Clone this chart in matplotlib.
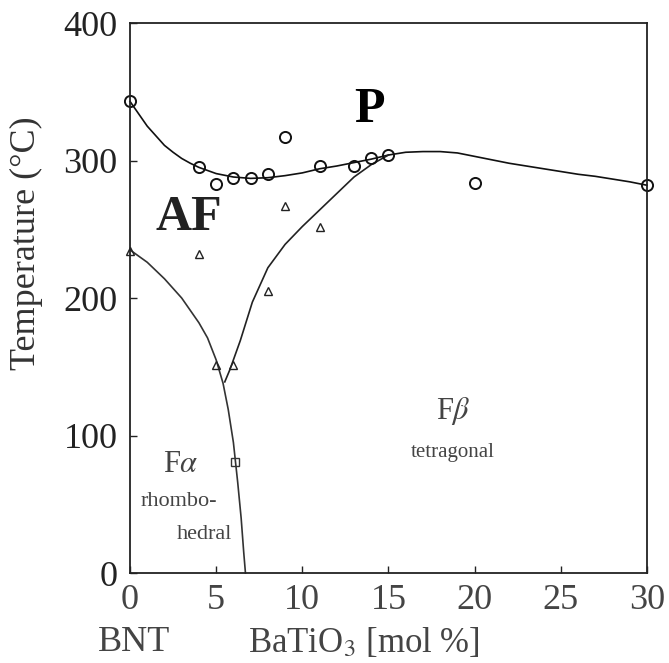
import matplotlib
matplotlib.use("Agg")
import matplotlib.pyplot as plt
from matplotlib import transforms

plt.rcParams['font.family'] = ['Liberation Serif', 'DejaVu Serif']
plt.rcParams['mathtext.fontset'] = 'stix'

# Pontos medidos (BaTiO3 mol %, temperatura °C)
circ_x = [0, 4, 5, 6, 7, 8, 9, 11, 13, 14, 15, 20, 30]
circ_T = [343, 295, 283, 287, 287, 290, 317, 296, 296, 302, 304, 284, 282]

tri_x = [0, 4, 9, 11, 8, 5, 6]
tri_T = [234, 232, 267, 252, 205, 151, 151]

sq_x = [6.1]
sq_T = [81]

# Contornos das fases
p_x = [0, 0.5, 1, 1.5, 2, 2.5, 3, 3.5, 4, 5, 6, 7, 8, 9, 10, 11, 12, 13, 14, 15,
       16, 17, 18, 19, 20, 21, 22, 23, 24, 25, 26, 27, 28, 29, 30]
p_T = [343, 334, 325, 318, 311, 306, 301.5, 298, 295, 290.5, 288, 287, 287.5, 289, 291,
       294, 296, 298.5, 301, 304, 306, 306.5, 306.5, 305.5, 303, 300.5, 298, 296, 294,
       292, 290, 288.5, 286.5, 284.5, 282]

fa_x = [0, 1, 2, 3, 4, 4.5, 5, 5.4, 5.7, 6.0, 6.25, 6.45, 6.6, 6.7]
fa_T = [235, 226, 214, 200, 182, 171, 155, 138, 119, 95, 66, 40, 15, 0]

fb_x = [5.5, 5.8, 6.4, 7.1, 8, 9, 10, 11, 12, 13, 14, 15]
fb_T = [139, 148, 169, 197, 222, 239, 252, 264, 276, 288, 297, 304]

xticks = [0, 5, 10, 15, 20, 25, 30]
yticks = [0, 100, 200, 300, 400]

fig = plt.figure(figsize=(6.69, 6.63), dpi=100)
ax = fig.add_axes([0.1943, 0.1357, 0.7728, 0.8296])

ax.plot(p_x, p_T, color='#111111', lw=1.2, clip_on=False)
ax.plot(fa_x, fa_T, color='#333333', lw=1.2, clip_on=False)
ax.plot(fb_x, fb_T, color='#222222', lw=1.2, clip_on=False)

ax.plot(circ_x, circ_T, 'o', ms=8, mfc='none', mec='#111111', mew=1.4, clip_on=False)
ax.plot(tri_x, tri_T, '^', ms=5.5, mfc='none', mec='#222222', mew=1.0, clip_on=False)
ax.plot(sq_x, sq_T, 's', ms=6, mfc='none', mec='#333333', mew=1.0, clip_on=False)

ax.set_xlim(0, 30)
ax.set_ylim(0, 400)
ax.set_xticks(xticks)
ax.set_yticks(yticks)
ax.tick_params(direction='in', length=5, width=1, labelsize=26, colors='#222222')
ax.tick_params(axis='y', pad=9)
ax.tick_params(axis='x', pad=8, labelcolor='#444444')
for s in ax.spines.values():
    s.set_linewidth(1.3)
    s.set_color('#222222')

ax.set_ylabel('Temperature (°C)', fontsize=26, color='#333333')
ax.yaxis.set_label_coords(-0.168, 0.60)

trans = transforms.blended_transform_factory(ax.transData, ax.transAxes)
ax.text(0.25, -0.127, 'BNT', transform=trans, fontsize=26, color='#444444',
        ha='center', va='center')
ax.text(13.6, -0.127, r'BaTiO$_3$ [mol %]', transform=trans, fontsize=25,
        color='#444444', ha='center', va='center')

# Rótulos das fases
ax.text(13.9, 337, 'P', fontsize=36, fontweight='bold', ha='center', va='center')
ax.text(3.4, 258, 'AF', fontsize=36, fontweight='bold', ha='center', va='center',
        color='#222222')
ax.text(2.95, 79, r'F$\alpha$', fontsize=22, ha='center', va='center', color='#444444')
ax.text(2.85, 52, 'rhombo-', fontsize=16, ha='center', va='center', color='#444444')
ax.text(4.35, 28, 'hedral', fontsize=16, ha='center', va='center', color='#444444')
ax.text(18.75, 118, r'F$\beta$', fontsize=22, ha='center', va='center', color='#444444')
ax.text(18.75, 88, 'tetragonal', fontsize=15, ha='center', va='center', color='#444444')

fig.savefig('out.png', dpi=100)
